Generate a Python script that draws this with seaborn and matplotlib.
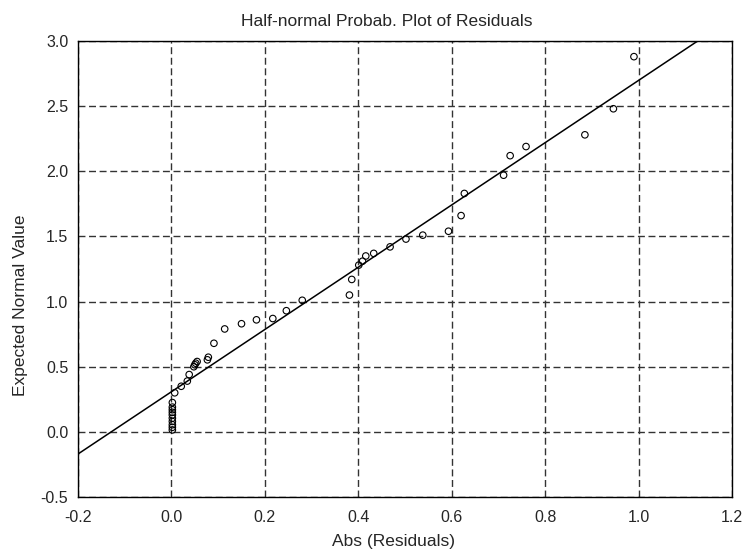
"""
Half-normal probability plot of residuals
"""

import numpy as np
import pandas as pd
import matplotlib
matplotlib.use('Agg')
import matplotlib.pyplot as plt
import seaborn as sns

sns.set_style('white')
plt.rcParams['font.family'] = ['Liberation Sans', 'DejaVu Sans']

# data
abs_resid = [
    0.002, 0.002, 0.002, 0.002, 0.002, 0.002, 0.002, 0.002, 0.002, 0.002,
    0.007, 0.021, 0.034, 0.038, 0.048, 0.050, 0.052, 0.055, 0.077, 0.079,
    0.091, 0.114, 0.150, 0.182, 0.217, 0.246, 0.280, 0.381, 0.386, 0.401,
    0.409, 0.416, 0.433, 0.468, 0.502, 0.538, 0.593, 0.620, 0.627, 0.711,
    0.725, 0.759, 0.885, 0.946, 0.990,
]
expected = [
    0.015, 0.035, 0.055, 0.080, 0.105, 0.130, 0.150, 0.170, 0.190, 0.225,
    0.300, 0.350, 0.390, 0.440, 0.500, 0.515, 0.527, 0.540, 0.553, 0.573,
    0.680, 0.790, 0.830, 0.860, 0.870, 0.930, 1.010, 1.050, 1.170, 1.280,
    1.310, 1.350, 1.370, 1.420, 1.480, 1.510, 1.540, 1.660, 1.830, 1.970,
    2.120, 2.190, 2.280, 2.480, 2.880,
]
fit_slope = 2.39
fit_intercept = 0.308

xticks = [-0.2, 0.0, 0.2, 0.4, 0.6, 0.8, 1.0, 1.2]
yticks = [-0.5, 0.0, 0.5, 1.0, 1.5, 2.0, 2.5, 3.0]

df = pd.DataFrame({'x': abs_resid, 'y': expected})
xs = np.array([xticks[0], xticks[-1]])
line_df = pd.DataFrame({'x': xs, 'y': fit_intercept + fit_slope * xs})

fig = plt.figure(figsize=(7.47, 5.52), dpi=100)
ax = fig.add_axes([0.1044, 0.0996, 0.8756, 0.8261])

sns.lineplot(data=line_df, x='x', y='y', color='black', lw=1.1, ax=ax, zorder=3)
sns.scatterplot(data=df, x='x', y='y', ax=ax, marker='o', s=22,
                facecolor='none', edgecolor='black', linewidth=0.8, zorder=4)

ax.set_xlim(xticks[0], xticks[-1])
ax.set_ylim(yticks[0], yticks[-1])
ax.set_xticks(xticks)
ax.set_yticks(yticks)
ax.set_xticklabels(['%.1f' % v for v in xticks], fontsize=11.5)
ax.set_yticklabels(['%.1f' % v for v in yticks], fontsize=11.5)
ax.tick_params(axis='x', length=0, pad=9)
ax.tick_params(axis='y', length=0, pad=7)

ax.grid(True, color='0.2', linestyle=(0, (5, 2.6)), linewidth=1.0)
for s in ax.spines.values():
    s.set_color('black')
    s.set_linewidth(1.0)

ax.set_xlabel('Abs (Residuals)', fontsize=12.5)
ax.xaxis.set_label_coords(0.482, -0.082)
ax.set_ylabel('Expected Normal Value', fontsize=12.5)
ax.yaxis.set_label_coords(-0.077, 0.42)
ax.set_title('Half-normal Probab. Plot of Residuals', fontsize=12.5, pad=11, x=0.4725)

fig.savefig('out.png', dpi=100)
plt.close(fig)
